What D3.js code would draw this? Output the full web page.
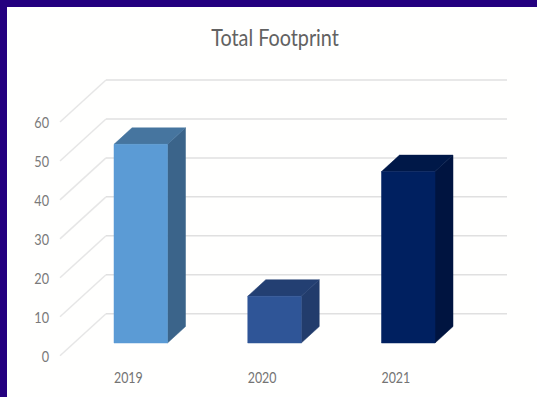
<!DOCTYPE html>
<html>
<head>
<meta charset="utf-8">
<script src="https://cdn.jsdelivr.net/npm/d3@7/dist/d3.min.js"></script>
<style>
  html, body { margin: 0; padding: 0; background: #fff; }
  svg { display: block; }
  text { font-family: Lato, "Open Sans", sans-serif; }
</style>
</head>
<body>
<script>
// Yearly totals for the footprint column chart
const years = ["2019", "2020", "2021"];
const totals = [51, 12, 44];
const tickValues = [0, 10, 20, 30, 40, 50, 60];
const barFronts = ["#5b9bd5", "#2f5597", "#002060"];
const barTops = ["#46759f", "#233f72", "#001848"];
const barSides = ["#3b648a", "#223c6c", "#001440"];

const width = 537, height = 397;
const svg = d3.select("body").append("svg")
  .attr("width", width).attr("height", height);

// Page frame: white panel with an indigo strip along the top and left
svg.append("rect").attr("width", width).attr("height", height).attr("fill", "#24007f");
svg.append("rect").attr("x", 7).attr("y", 7)
  .attr("width", width - 7).attr("height", height - 7).attr("fill", "#fffffe");

// Oblique projection: value runs up the wall, depth shifts a point up and right
const yBack = d3.scaleLinear().domain([0, 60]).range([313.7, 80]);
const wallLeft = 106, wallRight = 507;
const floorDepth = { dx: 46, dy: 42 };
const barDepth = { dx: 18, dy: 16.5 };
const barBaseY = 343;
const unit = yBack(0) - yBack(1);
const xBand = d3.scaleBand().domain(years).range([114, 435]).paddingInner(0.6).paddingOuter(0);

const grid = svg.append("g").attr("stroke-width", 1.5).attr("fill", "none");
tickValues.forEach(v => {
  const y = yBack(v);
  grid.append("path").attr("stroke", "#e6e6e6").attr("d", d3.line()([
    [wallLeft - floorDepth.dx, y + floorDepth.dy],
    [wallLeft, y]
  ]));
  grid.append("path").attr("stroke", "#e0e0e0").attr("d", d3.line()([
    [wallLeft, y],
    [wallRight, y]
  ]));
});

// Narrow the Lato glyphs horizontally to give the labels a condensed face
const condensed = (x, y, sx) => `translate(${x},${y}) scale(${sx},1)`;

// Value labels sit at the front end of each wall diagonal
svg.append("g").selectAll("text").data(tickValues).join("text")
  .attr("transform", v => condensed(49, yBack(v) + floorDepth.dy + 0.2, 0.82))
  .attr("text-anchor", "end").attr("dominant-baseline", "central")
  .attr("font-size", 15.5).attr("fill", "#7a7a7a").text(d => d);

// Columns, each built from its front, top and side faces
const bars = svg.append("g").selectAll("g").data(years).join("g");
bars.each(function (year, i) {
  const g = d3.select(this);
  const x0 = xBand(year), x1 = x0 + xBand.bandwidth();
  const yTop = barBaseY - totals[i] * unit;
  const d = barDepth;
  const face = (pts, fill) => g.append("path")
    .attr("d", d3.line()(pts) + "Z")
    .attr("fill", fill).attr("stroke", fill).attr("stroke-width", 0.5);
  face([[x1, barBaseY], [x1 + d.dx, barBaseY - d.dy], [x1 + d.dx, yTop - d.dy], [x1, yTop]], barSides[i]);
  face([[x0, yTop], [x0 + d.dx, yTop - d.dy], [x1 + d.dx, yTop - d.dy], [x1, yTop]], barTops[i]);
  face([[x0, barBaseY], [x0, yTop], [x1, yTop], [x1, barBaseY]], barFronts[i]);
});

// Year labels below the columns
svg.append("g").selectAll("text").data(years).join("text")
  .attr("transform", y => condensed(xBand(y), 376.5, 0.8))
  .attr("dominant-baseline", "central")
  .attr("font-size", 15.5).attr("fill", "#747474").text(d => d);

svg.append("text")
  .attr("transform", condensed(275, 38, 0.88))
  .attr("text-anchor", "middle").attr("dominant-baseline", "central")
  .attr("font-size", 22.5).attr("fill", "#626262").text("Total Footprint");
</script>
</body>
</html>
